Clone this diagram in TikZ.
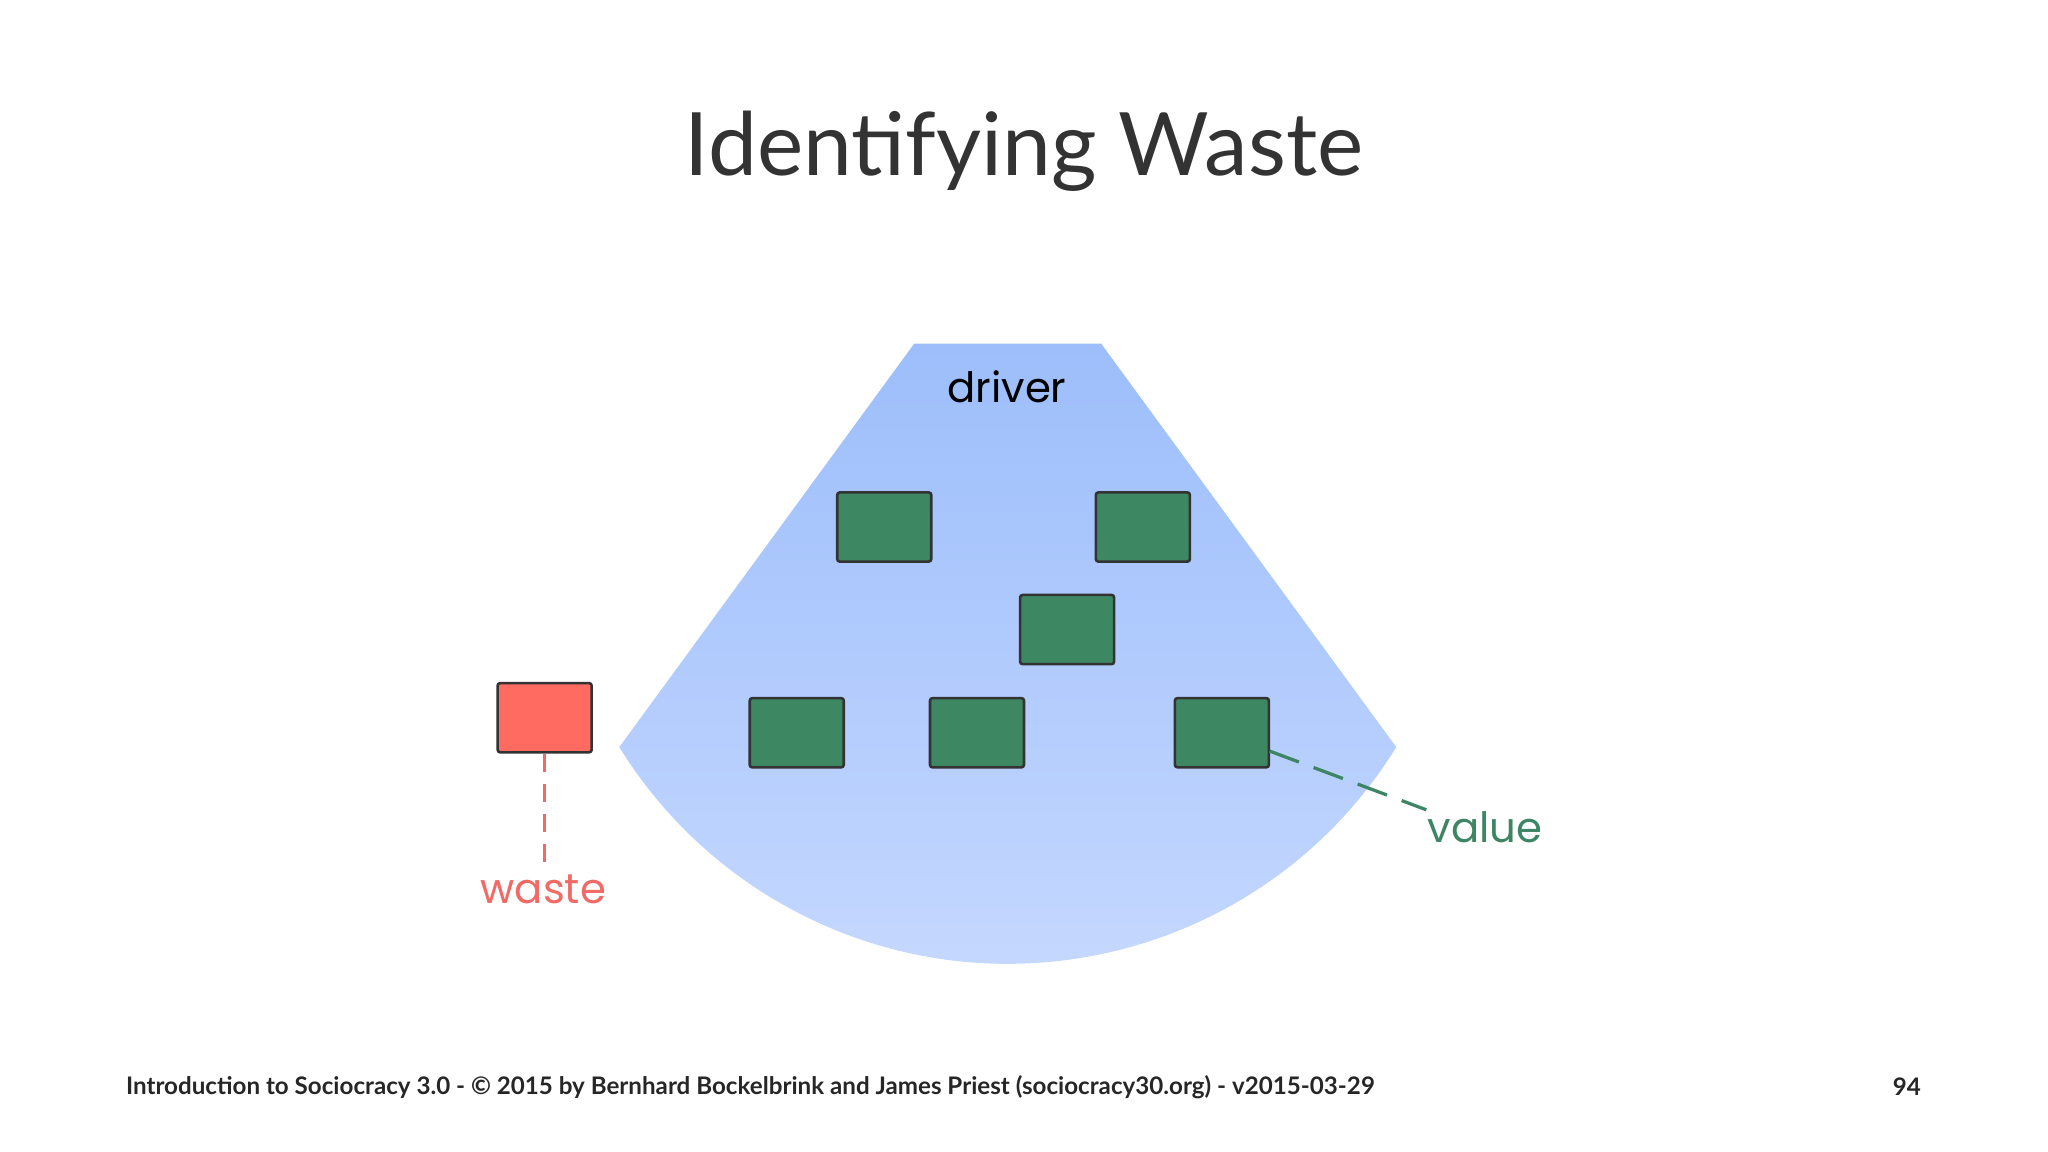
\documentclass[tikz,border=0pt]{standalone}
\usepackage{fontspec}
\setmainfont{Lato}
\newfontfamily\labfont{Poppins}
\begin{document}
\begin{tikzpicture}[x=1pt,y=-1pt,
  gbox/.style={draw=black!80,line width=2pt,rounded corners=2pt,minimum width=72pt,minimum height=53pt,inner sep=0},
  lab/.style={font=\labfont\fontsize{32}{38}\selectfont}]
\useasboundingbox (0,0) rectangle (1568,882);
\definecolor{gfill}{HTML}{3D8762}
\definecolor{rfill}{HTML}{FF6B61}
\definecolor{wastec}{HTML}{F26A66}
\definecolor{valc}{HTML}{3E8566}
\shade[top color={rgb,255:red,157;green,190;blue,251},bottom color={rgb,255:red,200;green,218;blue,255}]
 (700,263) -- (843,263) -- (1069,572) arc[start angle=31.7,end angle=148.3,radius=349.6] -- cycle;
\node[font=\fontsize{67}{76}\selectfont,text=black!80] (title) at (784,116) {Identifying Waste};
\node[lab] (drv) at (771,296) {driver};
\node[gbox,fill=gfill] (b1) at (677,403.5) {};
\node[gbox,fill=gfill] (b2) at (875,403.5) {};
\node[gbox,fill=gfill] (b3) at (817,482) {};
\node[gbox,fill=gfill] (b4) at (610,561) {};
\node[gbox,fill=gfill] (b5) at (748,561) {};
\node[gbox,fill=gfill] (b6) at (935.5,561) {};
\node[gbox,fill=rfill] (r) at (417,549.5) {};
\node[lab,text=wastec] (w) at (416,681) {waste};
\node[lab,text=valc] (v) at (1137,633) {value};
\coordinate (vs) at (972,575);
\coordinate (ve) at (1092,620);
\draw[wastec,line width=2.5pt,dash pattern=on 14pt off 9pt] (r.south) -- (417,660);
\draw[valc,line width=2.5pt,dash pattern=on 24pt off 12pt] (vs) -- (ve);
\node[font=\bfseries\fontsize{18.5}{21}\selectfont,text=black!85,anchor=west] (f) at (93,832) {Introduction to Sociocracy 3.0 - © 2015 by Bernhard Bockelbrink and James Priest (sociocracy30.org) - v2015-03-29};
\node[font=\bfseries\fontsize{18.5}{21}\selectfont,text=black!85] (pg) at (1460,832) {94};
\end{tikzpicture}
\end{document}
